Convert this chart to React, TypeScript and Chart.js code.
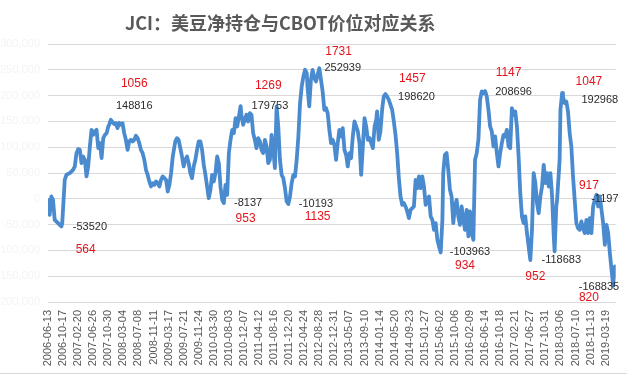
import React, { useEffect, useRef } from 'react';
import { Chart, registerables } from 'chart.js';

Chart.register(...registerables);

const tickLabels = [
  '2006-06-13', '2006-10-17', '2007-02-20', '2007-06-26', '2007-10-30', '2008-03-04', '2008-07-08',
  '2008-11-11', '2009-03-17', '2009-07-21', '2009-11-24', '2010-03-30', '2010-08-03', '2010-12-07',
  '2011-04-12', '2011-08-16', '2011-12-20', '2012-04-24', '2012-08-28', '2012-12-31', '2013-05-07',
  '2013-09-10', '2014-01-14', '2014-05-20', '2014-09-23', '2015-01-27', '2015-06-02', '2015-10-06',
  '2016-02-09', '2016-06-14', '2016-10-18', '2017-02-21', '2017-06-27', '2017-10-31', '2018-03-06',
  '2018-07-10', '2018-11-13', '2019-03-19',
];
const weeksPerTick = 18;
const lastWeek = 678;

// week index (weeks since 2006-06-13) and net position
const weekIdx = [
  0, 2, 4, 6, 8, 12, 16, 17, 20, 22, 26, 30, 32, 34, 36, 38, 40, 42, 44, 46, 48, 50, 52, 54, 56, 58,
  60, 62, 64, 66, 68, 70, 72, 73, 75, 77, 79, 81, 83, 85, 87, 89, 91, 93, 95, 97, 99, 101, 103, 105,
  107, 109, 111, 113, 115, 117, 119, 121, 123, 125, 127, 129, 131, 133, 135, 137, 139, 141, 143, 145,
  147, 149, 151, 152, 154, 156, 158, 160, 162, 164, 166, 168, 170, 172, 174, 176, 178, 180, 182, 184,
  186, 188, 190, 192, 194, 196, 198, 200, 202, 204, 206, 208, 210, 212, 214, 216, 218, 220, 222, 224,
  226, 228, 230, 231, 233, 235, 237, 239, 241, 243, 245, 247, 249, 251, 253, 255, 257, 259, 261, 263,
  265, 267, 269, 271, 273, 275, 277, 279, 281, 283, 285, 287, 289, 291, 293, 295, 297, 299, 301, 303,
  305, 307, 309, 310, 312, 314, 316, 318, 320, 322, 324, 326, 328, 330, 332, 334, 336, 338, 340, 342,
  344, 346, 348, 350, 352, 354, 356, 358, 360, 362, 364, 366, 368, 370, 372, 374, 376, 378, 380, 382,
  384, 386, 388, 390, 392, 393, 395, 397, 399, 401, 403, 405, 407, 409, 411, 413, 415, 417, 419, 421,
  423, 425, 427, 429, 431, 433, 435, 437, 439, 441, 443, 445, 447, 449, 451, 453, 455, 457, 459, 461,
  463, 465, 467, 469, 471, 472, 474, 476, 478, 480, 482, 484, 486, 488, 490, 492, 494, 496, 498, 500,
  502, 504, 506, 508, 510, 512, 514, 516, 518, 520, 522, 524, 526, 528, 530, 532, 534, 536, 538, 540,
  542, 544, 546, 548, 550, 552, 554, 556, 558, 560, 562, 564, 566, 568, 570, 572, 574, 576, 578, 580,
  582, 584, 586, 588, 590, 592, 594, 596, 598, 600, 602, 604, 605, 607, 608, 611, 612, 614, 615, 617,
  619, 621, 623, 625, 627, 629, 631, 633, 635, 637, 639, 641, 643, 645, 647, 649, 651, 653, 655, 657,
  659, 661, 663, 665, 667, 669, 671, 673, 675, 677,
];
const netPos = [
  -2000, -31000, 4500, -2000, -40700, -47200, -53520, -47200, 36800, 46500, 49700, 56200, 62700, 88500,
  96300, 95000, 69100, 82000, 75600, 43300, 62700, 101400, 133700, 124000, 130500, 133700,
  98200, 107900, 78800, 117600, 124000, 127300, 140200, 143400, 153100, 148816, 145000, 146600, 137000,
  147000, 143400, 146600, 127300, 114300, 95000, 111100, 114300, 111100, 114300, 122100,
  117600, 107900, 95000, 88500, 75600, 56200, 46500, 33600, 23900, 30400, 27100, 33600, 30400, 23900,
  36800, 43300, 40000, 36800, 14200, 27100,
  49700, 82000, 101400, 111100, 117600, 114300, 98200, 82000, 62700, 75600, 82000, 69100, 49700, 40000,
  62700, 75600, 95000, 111100, 111100, 95000,
  65900, 46500, 23900, 1300, 17400, 46500, 33600, 49700, 82000, 69100, 23900, -2000, -8137, 27100, 7700,
  88500, 114300, 133700, 127300, 156300,
  140200, 159600, 179753, 162800, 143400, 153100, 162800, 149900, 166000, 162800, 127300, 114300, 98200,
  117600, 111100, 95000, 88500, 114300, 101400, 69100,
  75600, 124000, 95000, 59400, 178900, 140200, 75600, 46500, 40000, 20700, -5200, -10193, 4500, 30400,
  46500, 43300, 75600, 120800, 185400, 217700,
  237100, 250000, 243500, 215000, 179000, 230600, 250000, 233800, 227400, 240300, 252939, 230600, 208000,
  172500, 175700, 166000, 133700, 107900, 114300, 104700,
  75600, 107900, 133700, 120800, 137000, 95000, 85300, 62700, 88500, 78800, 120800, 149900, 140200,
  130500, 107900, 46500, 101400, 156300, 140200, 114300,
  117600, 107900, 98200, 140200, 153100, 169300, 114300, 130500, 172500, 198620, 203000, 198300, 191800,
  182200, 172500, 149900, 124000, 88500, 40000, 4500,
  -11600, -8400, -14900, -24500, -37500, -21300, -18100, -14900, 36800, 20700, 43300, 20700, 43300,
  23900, -11600, -2000, 4500, -34200, -40700, -60100,
  -47200, -79500, -92400, -103963, -40700, 49700, 85300, 88500, 56200, 17400, 4500, -47200, -14900,
  -2000, -34200, -50400, -14900, -40700, -60100, -21300,
  -73000, -24500, -66500, -79500, 75600, 88500, 114300, 191800, 208000, 204800, 208696, 198300, 172500,
  140200, 130500, 101400, 120800, 88500, 62700, 88500,
  107900, 124000, 120800, 133700, 101400, 98200, 175700, 162800, 169300, 140200, 82000, 11000, -34200,
  -47200, -34200, -66500, -92400, -118683, -60100, 49700,
  30400, -8400, -27800, 4500, 23900, 65900, 30400, 49700, 23900, 49700, 4500, -73000, -102000, -14900,
  -2000, 75600, 172500, 205000, 198300, 185400,
  188600, 169300, 127300, 101400, 43300, -2000, -47200, -56800, -60100, -43900, -56800, -66500, -40700,
  -66500, -37500, -66500, -14900, -2000, 7700, -14900,
  4500, -21300, -47200, -89200, -50400, -66500, -105300, -137600, -168835, -131100,
];

// text notes: net position (black) and CBOT price (red)
const noteText = [
  '1056', '148816', '-53520', '564', '1269', '179753', '-8137', '953', '-10193', '1135', '1731', '252939',
  '1457', '198620', '-103963', '934', '1147', '208696', '952', '-118683', '1047', '192968', '917', '-1197',
  '-168835', '820',
];
const noteWeek = [
  103, 103, 50, 45, 263, 265, 239, 236, 320, 322, 347, 352,
  435, 440, 504, 498, 550, 556, 582, 613, 646, 659, 646, 665,
  658, 646,
];
const noteValue = [
  222900, 180800, -53700, -98800, 219000, 180800, -8300, -38800, -9700, -34900, 284900, 253900,
  232600, 198300, -102100, -129300, 243600, 206800, -151700, -118200, 227300, 191900, 25800, -600,
  -170000, -191300,
];
const noteIsPrice = [
  true, false, false, true, true, false, false, true, false, true, true, false,
  true, false, false, true, true, false, true, false, true, false, true, false,
  false, true,
];

const titleText = 'JCI：美豆净持仓与CBOT价位对应关系';

const notesPlugin = {
  id: 'notes',
  afterDatasetsDraw(chart: any) {
    const { ctx } = chart;
    const xs = chart.scales.x;
    const ys = chart.scales.y;
    ctx.save();
    ctx.textAlign = 'center';
    ctx.textBaseline = 'middle';
    noteText.forEach((t, k) => {
      ctx.font = noteIsPrice[k]
        ? '12px "Liberation Sans", Arial, sans-serif'
        : '11px "Liberation Sans", Arial, sans-serif';
      ctx.fillStyle = noteIsPrice[k] ? '#e5141b' : '#2b2b2b';
      ctx.fillText(t, xs.getPixelForValue(noteWeek[k]), ys.getPixelForValue(noteValue[k]));
    });
    ctx.restore();
  },
};

export default function App() {
  const ref = useRef<HTMLCanvasElement>(null);

  useEffect(() => {
    document.body.style.margin = '0';
    const canvas = ref.current;
    if (!canvas) return;
    const chart = new Chart(canvas, {
      type: 'line',
      data: {
        datasets: [
          {
            data: weekIdx.map((w, k) => ({ x: w, y: netPos[k] })),
            borderColor: '#4a8bcf',
            borderWidth: 3.8,
            pointRadius: 0,
            tension: 0,
            borderJoinStyle: 'round',
            borderCapStyle: 'round',
            fill: false,
          },
        ],
      },
      options: {
        animation: false,
        responsive: false,
        devicePixelRatio: 1,
        layout: { padding: { top: 44, right: 7, bottom: 0, left: 0 } },
        plugins: {
          legend: { display: false },
          title: { display: false },
          tooltip: { enabled: false },
        },
        scales: {
          x: {
            type: 'linear',
            min: 0,
            max: lastWeek,
            grid: { display: false, drawTicks: false },
            border: { display: false },
            afterBuildTicks: (scale: any) => {
              scale.ticks = tickLabels.map((_, k) => ({ value: k * weeksPerTick }));
            },
            afterFit: (scale: any) => {
              scale.height = 73;
            },
            ticks: {
              autoSkip: false,
              maxRotation: 90,
              minRotation: 90,
              padding: 8,
              color: '#595959',
              font: { family: '"Liberation Sans", Arial, sans-serif', size: 11 },
              callback: (v: any) => tickLabels[Math.round(Number(v) / weeksPerTick)] ?? '',
            },
          },
          y: {
            min: -200000,
            max: 300000,
            grid: { color: '#d9d9d9', lineWidth: 1, drawTicks: false },
            border: { display: false },
            afterFit: (scale: any) => {
              scale.width = 48;
            },
            ticks: {
              stepSize: 50000,
              padding: 8,
              color: '#f4f4f4',
              font: { family: '"Liberation Sans", Arial, sans-serif', size: 11 },
              callback: (v: any) => Number(v).toLocaleString('en-US'),
            },
          },
        },
      },
      plugins: [notesPlugin],
    } as any);
    return () => chart.destroy();
  }, []);

  return (
    <div style={{ position: 'absolute', left: 0, top: 0, width: 627, height: 375, background: '#fff' }}>
      <canvas ref={ref} width={627} height={375} style={{ width: 627, height: 375, display: 'block' }} />
      <div
        style={{
          position: 'absolute',
          left: 125,
          top: 12,
          fontFamily: '"Noto Sans CJK SC", sans-serif',
          fontWeight: 700,
          fontSize: 18,
          lineHeight: '20px',
          color: '#595959',
          whiteSpace: 'nowrap',
        }}
      >
        {titleText}
      </div>
      <div
        style={{
          position: 'absolute',
          left: 0,
          top: 373,
          width: 627,
          height: 0,
          borderTop: '1px solid #d9d9d9',
        }}
      />
    </div>
  );
}
